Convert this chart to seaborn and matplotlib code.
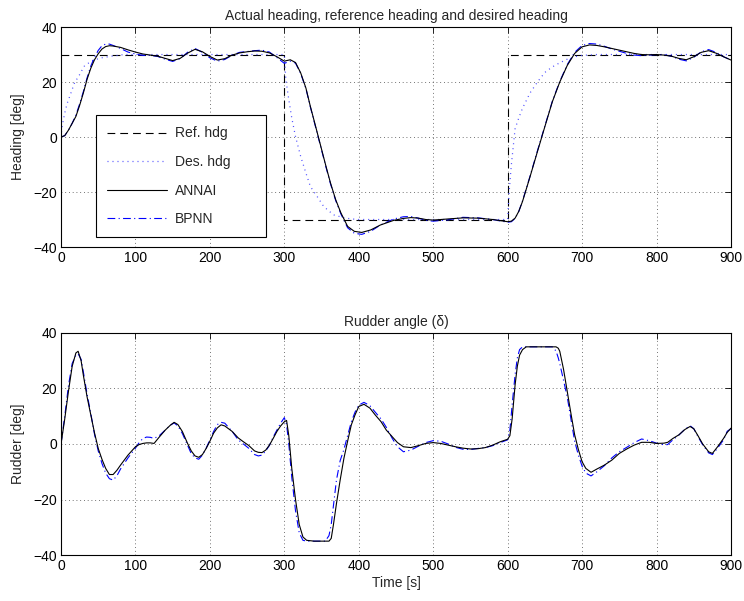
import matplotlib
matplotlib.use("Agg")
import matplotlib.pyplot as plt
import seaborn as sns
import numpy as np

# ---------------- data ----------------
# Reference heading (step)
t_ref = [0, 300, 300, 600, 600, 900]
ref_hdg = [30, 30, -30, -30, 30, 30]

# Desired heading (reference model output)
t_des = [0, 1, 3, 5, 8, 12, 18, 25, 31, 40, 52, 68, 85, 100, 300, 302, 306, 310, 315,
         322, 329, 335, 344, 353, 366, 382, 398, 420, 600, 602, 605, 610, 615, 620,
         630, 640, 650, 660, 670, 680, 690, 700, 720, 900]
des_hdg = [0, 3, 6, 8.7, 12, 15, 19.6, 22.7, 25.7, 27.5, 28.7, 29.4, 30, 30, 30, 21, 13.6, 6.9, 0.2,
           -7.1, -13.1, -18, -21.6, -25.3, -28.3, -29.5, -30, -30, -30, -20, -10, 3, 7, 10.5,
           16, 20, 23.5, 25.5, 27, 28.3, 29.2, 29.7, 30, 30]

# Actual heading
t_hdg = [0, 5, 10, 15, 20, 25, 30, 35, 40, 45, 50, 55, 60, 65, 70, 80, 90, 100, 110, 120,
         130, 140, 150, 160, 170, 180, 190, 200, 210, 220, 230, 240, 250, 260, 270, 280,
         290, 300, 308, 315, 322, 329, 335, 342, 349, 356, 362, 369, 376, 385, 394, 404,
         416, 429, 447, 460, 470, 480, 490, 500, 520, 540, 560, 580, 590, 600, 605, 610,
         615, 620, 630, 640, 650, 660, 670, 680, 690, 700, 710, 720, 730, 740, 750, 760,
         770, 780, 790, 800, 810, 820, 830, 840, 850, 860, 870, 880, 890, 900]
annai_hdg = [0, 0.5, 2.5, 5, 7.5, 11.5, 16, 21, 25, 28.1, 30.3, 32, 32.9, 33.2, 33.1, 32.6, 31.7, 30.9, 30.2, 29.8,
             29.4, 28.6, 27.8, 28.6, 30.5, 31.9, 31, 29.3, 28, 28.5, 29.8, 30.6, 31, 31.3, 31.2, 30.6,
             29.2, 27.6, 28.1, 27.1, 23.3, 17.8, 11.1, 3.9, -3.4, -10.7, -16.7, -22.8, -27.6, -32.5, -34.3, -34.7,
             -33.8, -32, -30.3, -29.6, -29.3, -29.5, -30, -30.2, -29.8, -29.4, -29.5, -30, -30.4, -30.8, -30.6, -29.5,
             -27, -23.4, -14.5, -5.3, 3.8, 12.8, 20, 26, 30.4, 32.8, 33.5, 33.3, 32.8, 32.2, 31.6, 31,
             30.4, 30, 29.9, 30, 29.8, 29.4, 28.6, 28.1, 29.2, 30.8, 31.4, 30.5, 29.2, 28]
bpnn_hdg = [0, 0.5, 2.5, 5, 8, 12, 16.5, 21.5, 25.8, 29, 31.5, 33.2, 33.8, 33.8, 33.3, 32.2, 30.9, 30.2, 29.7, 29.7,
            29.3, 28.3, 27.5, 28.5, 30.8, 32.2, 30.8, 28.8, 27.6, 28.2, 29.8, 30.8, 31.1, 31.4, 31.6, 30.9,
            28.9, 26.8, 27.6, 26.9, 23.1, 17.6, 10.9, 3.6, -3.7, -11, -17, -23.1, -28, -33, -35, -35.4,
            -34.3, -32, -29.8, -29, -28.9, -29.5, -30.3, -30.6, -30.1, -29.2, -29.4, -30, -30.5, -31, -30.8, -29.6,
            -27, -23.2, -14.3, -5, 4, 13, 20.2, 26.3, 30.8, 33.3, 34, 33.8, 33, 32, 31.2, 30.4,
            29.8, 29.6, 29.8, 30, 29.9, 29.4, 28.3, 27.7, 29, 31, 31.8, 30.8, 29.2, 28]

# Rudder angle
t_rud = [0, 5, 10, 15, 20, 23, 27, 30, 35, 40, 45, 50, 55, 60, 65, 70, 75, 80, 90, 100,
         105, 110, 115, 120, 125, 132, 140, 147, 152, 157, 163, 170, 175, 180, 185, 190, 195, 200,
         205, 210, 215, 220, 230, 238, 245, 252, 260, 265, 270, 275, 280, 285, 290, 295, 300,
         303, 306, 310, 315, 320, 325, 330, 340, 355, 360, 363, 366, 370, 375, 380, 385, 390,
         395, 400, 407, 415, 422, 430, 437, 445, 452, 460, 470, 480, 490, 500, 510, 520, 530,
         540, 550, 560, 570, 580, 590, 600, 603, 606, 610, 613, 616, 620, 625, 660, 665, 668,
         670, 675, 680, 685, 690, 695, 700, 705, 712, 720, 730, 740, 750, 760, 770, 780, 790,
         800, 810, 815, 822, 830, 838, 845, 850, 855, 862, 870, 875, 882, 890, 895, 900]
annai_rud = [0, 9, 19, 28, 32.8, 33.4, 30, 24.8, 17, 10.5, 4, -1.6, -5.5, -8.8, -11, -11, -9.5, -7.6, -4, -1,
             -0.2, 0.2, 0.4, 0.4, 0.2, 2.5, 5, 6.8, 7.8, 7, 4.5, 0.2, -2.5, -4.3, -4.8, -3.8, -1.6, 1,
             3.9, 5.8, 6.9, 6.5, 4.5, 2.2, 0.8, -0.5, -2.5, -3, -3.1, -2.2, -0.4, 2, 4.5, 6.5, 8,
             8.5, 3, -8.8, -20, -29, -33.5, -34.7, -35, -35, -35, -34, -29, -21.5, -13, -5.2, 1, 6.9,
             10.5, 13.5, 14.3, 12.9, 10.5, 8, 5, 2.6, 0.5, -1, -1.3, -0.6, 0.2, 0.5, 0.2, -0.4, -1,
             -1.5, -1.8, -1.7, -1.3, -0.4, 0.8, 1.7, 3, 9, 21.3, 28, 32, 34, 35, 35, 35, 34.5,
             33.4, 27, 19, 11, 3.3, -2, -6.4, -8.8, -10.2, -9, -7.6, -5.8, -3.4, -1.8, -0.4, 0.6, 0.6,
             0.2, 0.3, 0.6, 2, 3.3, 5.2, 6.3, 5.5, 3.3, 0, -2.8, -3.4, -1, 2, 4.2, 5.7]
bpnn_rud = [0, 10, 21, 29, 32, 32.5, 30.5, 26, 18, 11, 3.5, -2.5, -7, -10.5, -12.5, -13, -11.5, -9, -5, -1.5,
            0.5, 2, 2.5, 2.4, 2, 3, 5, 6.8, 7.6, 6.5, 3.8, -0.5, -3.5, -5, -5.5, -4, -1.5, 1.5,
            4.5, 7, 7.8, 7.5, 4.5, 1.5, 0, -1.5, -3.8, -4.3, -4, -2.5, -0.5, 2.5, 5, 7.5, 9.5,
            7, 0, -12, -24, -32, -34.7, -35, -35, -35, -33, -29, -22, -13, -6, -2, 3, 8,
            11.5, 14, 15, 13.8, 11.5, 9, 6, 2, -1, -2.8, -2.2, -0.8, 0.5, 1.2, 1, 0, -1.2,
            -1.9, -2, -1.6, -1.3, -0.6, 0.5, 1.5, 5, 14, 25, 31, 34, 35, 35, 35, 33.5, 31,
            29, 23, 17, 9, 1, -4, -8, -10.5, -11.5, -10, -7.8, -5, -2.8, -1.2, 0.5, 1.8, 1.2,
            0.3, -0.3, -0.2, 1.5, 3.2, 5.3, 6.6, 5.5, 3, -0.3, -3.2, -3.8, -1.5, 1.5, 4.6, 5.5]

x_ticks = [0, 100, 200, 300, 400, 500, 600, 700, 800, 900]
y_ticks = [-40, -20, 0, 20, 40]

# ---------------- style ----------------
sns.set_theme(style="white")
plt.rcParams['font.family'] = ['Liberation Sans', 'DejaVu Sans']
plt.rcParams['font.size'] = 10
plt.rcParams['lines.scale_dashes'] = True

FS = 10

fig = plt.figure(figsize=(7.44, 6.01), dpi=100)
ax1 = fig.add_axes([0.082, 0.589, 0.9005, 0.366])
ax2 = fig.add_axes([0.082, 0.0765, 0.9005, 0.3695])

lw = 0.8
sns.lineplot(x=t_ref, y=ref_hdg, ax=ax1, color='black', lw=lw, estimator=None, sort=False,
             label='Ref. hdg')
ax1.lines[-1].set_dashes((7, 4.5))
sns.lineplot(x=t_des, y=des_hdg, ax=ax1, color='#4a4aff', lw=0.9, estimator=None, sort=False,
             label='Des. hdg')
ax1.lines[-1].set_dashes((0.8, 3.2))
sns.lineplot(x=t_hdg, y=annai_hdg, ax=ax1, color='black', lw=lw, estimator=None, sort=False,
             label='ANNAI')
sns.lineplot(x=t_hdg, y=bpnn_hdg, ax=ax1, color='#0000ff', lw=lw, estimator=None, sort=False,
             label='BPNN')
ax1.lines[-1].set_dashes((7, 3, 1, 3))
ax1.lines[2].set_zorder(3)

sns.lineplot(x=t_rud, y=annai_rud, ax=ax2, color='black', lw=lw, estimator=None, sort=False)
sns.lineplot(x=t_rud, y=bpnn_rud, ax=ax2, color='#0000ff', lw=lw, estimator=None, sort=False)
ax2.lines[-1].set_dashes((7, 3, 1, 3))
ax2.lines[0].set_zorder(3)

for ax in (ax1, ax2):
    ax.set_xlim(0, 900)
    ax.set_ylim(-40, 40)
    ax.set_xticks(x_ticks)
    ax.set_yticks(y_ticks)
    ax.set_xticklabels([str(v) for v in x_ticks])
    ax.set_yticklabels([('\u2212' + str(-v)) if v < 0 else str(v) for v in y_ticks])
    ax.grid(True, color='#444444', linestyle=(0, (1, 3.5)), linewidth=0.6)
    ax.tick_params(direction='in', length=4, width=0.6, top=True, right=True,
                   labelsize=FS, colors='black', pad=3)
    for s in ax.spines.values():
        s.set_color('black')
        s.set_linewidth(0.8)
    ax.set_facecolor('white')

ax1.set_title('Actual heading, reference heading and desired heading', fontsize=FS, pad=5)
ax1.set_ylabel('Heading [deg]', fontsize=FS, labelpad=6)
ax1.set_xlabel('')
ax2.set_title('Rudder angle (\u03b4)', fontsize=FS, pad=5)
ax2.set_ylabel('Rudder [deg]', fontsize=FS, labelpad=6)
ax2.set_xlabel('Time [s]', fontsize=FS, labelpad=2)

leg = ax1.legend(loc='lower left', bbox_to_anchor=(0.052, 0.044, 0.254, 0.553), mode='expand',
                 borderaxespad=0, fontsize=FS, handlelength=4.3, handletextpad=0.6,
                 labelspacing=1.05, borderpad=0.8, fancybox=False, frameon=True)
leg.get_frame().set_edgecolor('black')
leg.get_frame().set_linewidth(0.8)
leg.get_frame().set_alpha(1)

fig.savefig('out.png', dpi=100, facecolor='white')
